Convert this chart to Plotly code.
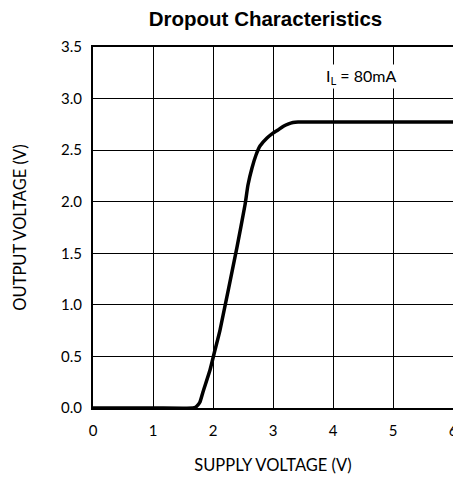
import plotly.graph_objects as go

supply_v = [0.0, 1.0, 1.667, 1.71, 1.75, 1.783, 1.833, 1.95, 2.033, 2.117, 2.40, 2.533, 2.583, 2.65, 2.717, 2.783, 2.90, 3.0, 3.083, 3.167, 3.25, 3.333, 3.417, 4.0, 5.0, 6.0]
output_v = [0.0, 0.0, 0.0, 0.008, 0.03, 0.058, 0.155, 0.368, 0.562, 0.756, 1.56, 1.968, 2.162, 2.327, 2.453, 2.54, 2.618, 2.665, 2.695, 2.73, 2.753, 2.768, 2.773, 2.773, 2.773, 2.773]

x_ticks = [0, 1, 2, 3, 4, 5, 6]
y_ticks = [0.0, 0.5, 1.0, 1.5, 2.0, 2.5, 3.0, 3.5]

font_fam = "Lato, Open Sans, sans-serif"

fig = go.Figure()
fig.add_trace(go.Scatter(x=supply_v, y=output_v, mode="lines",
                         line=dict(color="black", width=3.5, shape="spline", smoothing=0.5),
                         showlegend=False, hoverinfo="skip", cliponaxis=False))

# the page body keeps its default 8px margin; figure offsets compensate
fig.update_layout(
    width=453, height=473,
    margin=dict(l=85, r=8, t=39, b=73, autoexpand=False),
    paper_bgcolor="white", plot_bgcolor="white",
    title=dict(text="<b>Dropout Characteristics</b>", x=257.5/453, xanchor="center",
               y=1 - 11/473, yanchor="middle",
               font=dict(family="Liberation Sans", size=20.5, color="black")),
    font=dict(family=font_fam, size=15, color="black"),
)

fig.update_xaxes(range=[0, 6], tickvals=x_ticks, ticktext=[str(v) for v in x_ticks],
                 showgrid=True, gridcolor="black", gridwidth=1,
                 showline=True, linecolor="black", linewidth=2, mirror=True,
                 ticks="", ticklabelstandoff=8, zeroline=False, automargin=False,
                 title=dict(text="SUPPLY VOLTAGE (V)", standoff=21, font=dict(size=16.5)),
                 tickfont=dict(size=15))
fig.update_yaxes(range=[0, 3.5], tickvals=y_ticks, tickformat=".1f",
                 showgrid=True, gridcolor="black", gridwidth=1,
                 showline=True, linecolor="black", linewidth=2, mirror=True,
                 ticks="", ticklabelstandoff=6, zeroline=False, automargin=False,
                 title=dict(text="OUTPUT VOLTAGE (V)", standoff=30, font=dict(size=16.5)),
                 tickfont=dict(size=15))

fig.add_annotation(x=4.47, y=3.21, xref="x", yref="y",
                   text="I<sub>L</sub> = 80mA", showarrow=False,
                   bgcolor="white", font=dict(size=16, color="black"))

fig.write_html("out.html")
